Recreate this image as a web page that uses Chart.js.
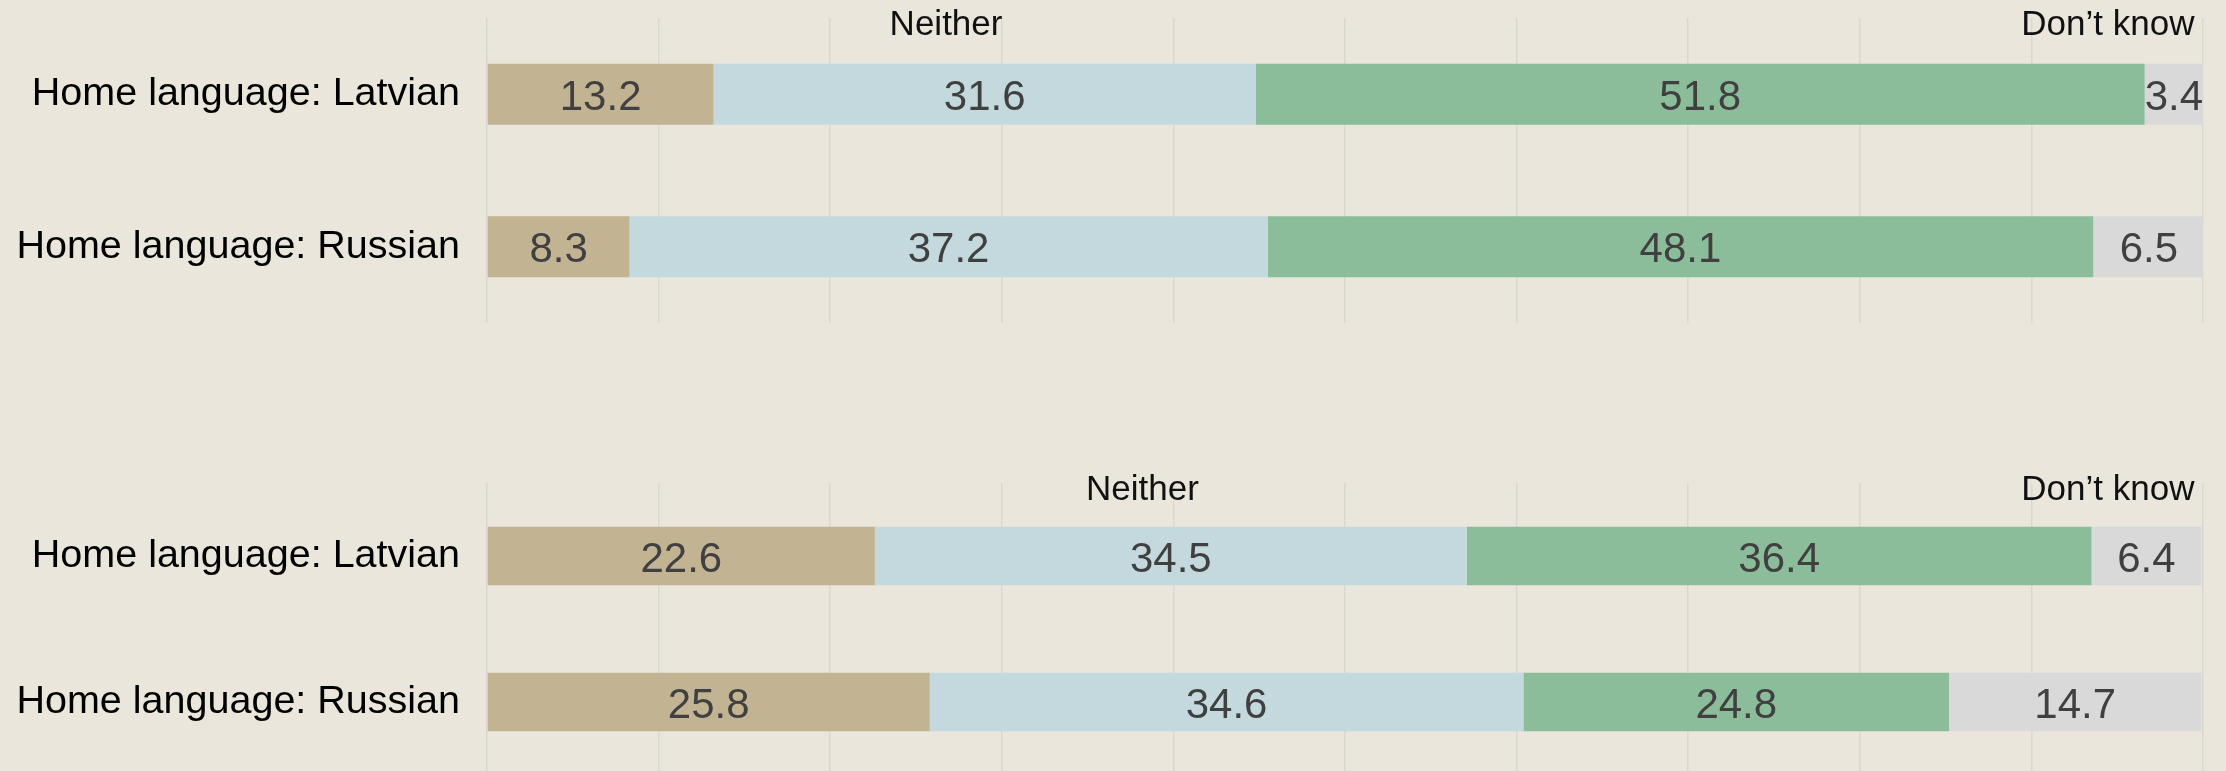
<!DOCTYPE html>
<html>
<head>
<meta charset="utf-8">
<script src="https://cdn.jsdelivr.net/npm/chart.js@4/dist/chart.umd.min.js"></script>
<style>
  html, body { margin: 0; padding: 0; background: #EAE6DC; overflow: hidden; width: 2226px; height: 771px; }
  .box { position: absolute; left: 0; width: 2226px; }
  #b1 { top: 0; height: 340px; }
  #b2 { top: 465px; height: 320px; }
</style>
</head>
<body>
<div class="box" id="b1"><canvas id="c1" width="2226" height="340"></canvas></div>
<div class="box" id="b2"><canvas id="c2" width="2226" height="320"></canvas></div>
<script>
// ---- Data ----
const categories = ["Home language: Latvian", "Home language: Russian"];
const seriesNames = ["Agree", "Neither", "Disagree", "Don\u2019t know"];

const topAgree    = [13.2, 8.3];
const topNeither  = [31.6, 37.2];
const topDisagree = [51.8, 48.1];
const topDontKnow = [3.4, 6.5];

const bottomAgree    = [22.6, 25.8];
const bottomNeither  = [34.5, 34.6];
const bottomDisagree = [36.4, 24.8];
const bottomDontKnow = [6.4, 14.7];

const xTicks = [0, 10, 20, 30, 40, 50, 60, 70, 80, 90, 100];

// header labels (text + x value on the 0-100 axis)
const topHeaders    = [{ text: "Neither", at: 26.75, align: "center" }, { text: "Don\u2019t know", at: 99.5, align: "right" }];
const bottomHeaders = [{ text: "Neither", at: 38.2,  align: "center" }, { text: "Don\u2019t know", at: 99.5, align: "right" }];

// ---- Styles ----
const colors = ["#C2B393", "#C4D9DD", "#8BBD9B", "#D9D9D9"];
const FONT = "'Liberation Sans', Arial, Helvetica, sans-serif";

const valueLabels = {
  id: "valueLabels",
  afterDatasetsDraw(chart) {
    const ctx = chart.ctx;
    ctx.save();
    ctx.font = "42px " + FONT;
    ctx.fillStyle = "#404040";
    ctx.textAlign = "center";
    ctx.textBaseline = "alphabetic";
    chart.data.datasets.forEach((ds, di) => {
      const meta = chart.getDatasetMeta(di);
      meta.data.forEach((el, i) => {
        const v = ds.data[i];
        const cx = (el.x + el.base) / 2;
        ctx.fillText(v.toFixed(1), cx, el.y + 15.5);
      });
    });
    ctx.restore();
  }
};

const headerLabels = {
  id: "headerLabels",
  afterDraw(chart, args, opts) {
    const ctx = chart.ctx;
    const xs = chart.scales.x;
    ctx.save();
    ctx.font = "35px " + FONT;
    ctx.fillStyle = "#111111";
    ctx.textBaseline = "alphabetic";
    (opts.items || []).forEach(h => {
      ctx.textAlign = h.align;
      ctx.fillText(h.text, xs.getPixelForValue(h.at), chart.chartArea.top + 17);
    });
    ctx.restore();
  }
};

function makeChart(id, vals, headers, padBottom) {
  return new Chart(document.getElementById(id), {
    type: "bar",
    data: {
      labels: categories,
      datasets: vals.map((d, k) => ({
        label: seriesNames[k],
        data: d,
        backgroundColor: colors[k],
        borderWidth: 0,
        categoryPercentage: 0.8,
        barPercentage: 0.5
      }))
    },
    options: {
      indexAxis: "y",
      responsive: false,
      animation: false,
      layout: { autoPadding: false, padding: { top: 18, right: 23, bottom: padBottom, left: 0 } },
      plugins: {
        legend: { display: false },
        tooltip: { enabled: false },
        headerLabels: { items: headers }
      },
      scales: {
        x: {
          stacked: true,
          min: 0,
          max: 100,
          afterBuildTicks(scale) { scale.ticks = xTicks.map(v => ({ value: v })); },
          ticks: { display: false },
          grid: { color: "#D9D7D2", lineWidth: 1.5, drawTicks: false },
          border: { display: false },
          afterFit(scale) { scale.height = 0; scale.paddingLeft = 0; scale.paddingRight = 0; }
        },
        y: {
          stacked: true,
          grid: { display: false, drawTicks: false },
          border: { display: false },
          ticks: { color: "#000000", font: { family: FONT, size: 39.5 }, padding: 27 },
          afterFit(scale) { scale.width = 487; scale.paddingTop = 0; scale.paddingBottom = 0; }
        }
      }
    },
    plugins: [valueLabels, headerLabels]
  });
}

makeChart("c1", [topAgree, topNeither, topDisagree, topDontKnow], topHeaders, 17);
makeChart("c2", [bottomAgree, bottomNeither, bottomDisagree, bottomDontKnow], bottomHeaders, 10);
</script>
</body>
</html>
